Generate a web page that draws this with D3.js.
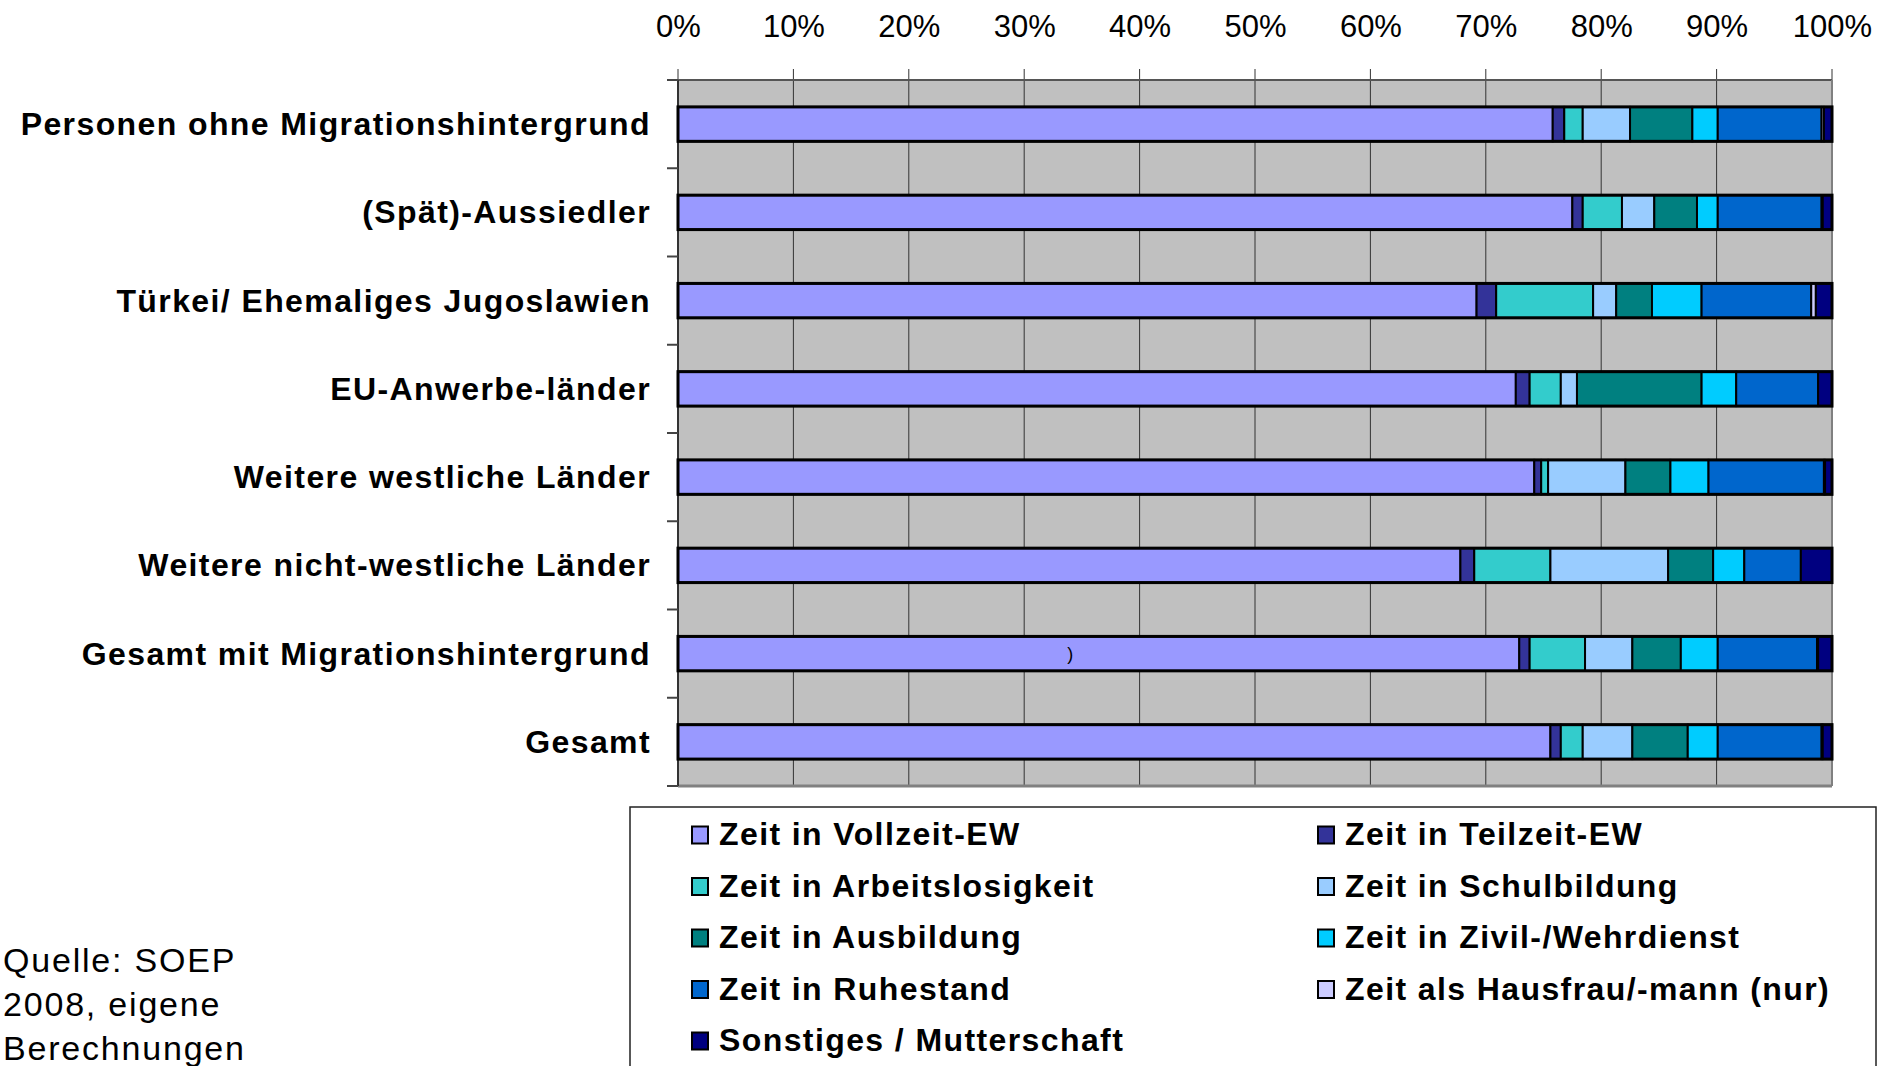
<!DOCTYPE html>
<html>
<head>
<meta charset="utf-8">
<script src="https://cdn.jsdelivr.net/npm/d3@7"></script>
<style>
  html, body { margin: 0; padding: 0; background: #fff; }
  svg { display: block; font-family: "Liberation Sans", Arial, sans-serif; }
</style>
</head>
<body>
<svg id="chart" width="1881" height="1066"></svg>
<script>
// ---- data ----
const categories = [
  "Personen ohne Migrationshintergrund",
  "(Spät)-Aussiedler",
  "Türkei/ Ehemaliges Jugoslawien",
  "EU-Anwerbe-länder",
  "Weitere westliche Länder",
  "Weitere nicht-westliche Länder",
  "Gesamt mit Migrationshintergrund",
  "Gesamt"
];
const seriesNames = [
  "Zeit in Vollzeit-EW",
  "Zeit in Teilzeit-EW",
  "Zeit in Arbeitslosigkeit",
  "Zeit in Schulbildung",
  "Zeit in Ausbildung",
  "Zeit in Zivil-/Wehrdienst",
  "Zeit in Ruhestand",
  "Zeit als Hausfrau/-mann (nur)",
  "Sonstiges / Mutterschaft"
];
const seriesColors = ["#9999FF", "#333399", "#33CCCC", "#99CCFF", "#008080", "#00CCFF", "#0066CC", "#CCCCFF", "#000080"];

const vollzeit      = [75.8, 77.5, 69.2, 72.6, 74.2, 67.8, 72.9, 75.6];
const teilzeit      = [1.0, 0.9, 1.7, 1.2, 0.6, 1.2, 0.9, 0.9];
const arbeitslos    = [1.6, 3.4, 8.4, 2.7, 0.6, 6.6, 4.8, 1.9];
const schulbildung  = [4.1, 2.8, 2.0, 1.4, 6.7, 10.2, 4.1, 4.3];
const ausbildung    = [5.4, 3.7, 3.1, 10.8, 3.9, 3.9, 4.2, 4.8];
const zivilWehr     = [2.2, 1.8, 4.3, 3.0, 3.3, 2.7, 3.2, 2.6];
const ruhestand     = [9.0, 9.0, 9.5, 7.1, 10.0, 4.9, 8.6, 9.0];
const hausfrau      = [0.2, 0.1, 0.4, 0.0, 0.1, 0.0, 0.1, 0.1];
const sonstiges     = [0.7, 0.8, 1.4, 1.2, 0.6, 2.7, 1.2, 0.8];

const tickValues = [0, 0.1, 0.2, 0.3, 0.4, 0.5, 0.6, 0.7, 0.8, 0.9, 1.0];
const sourceLines = ["Quelle: SOEP", "2008, eigene", "Berechnungen"];

const seriesValues = [vollzeit, teilzeit, arbeitslos, schulbildung, ausbildung, zivilWehr, ruhestand, hausfrau, sonstiges];

// table for stack
const table = categories.map((c, i) => {
  const row = { cat: c };
  seriesNames.forEach((s, j) => row[s] = seriesValues[j][i]);
  return row;
});

// ---- layout ----
const svg = d3.select("#chart");
const pLeft = 678, pRight = 1832, pTop = 80, pBottom = 786;

const x = d3.scaleLinear().domain([0, 1]).range([pLeft, pRight]);
const y = d3.scaleBand().domain(categories).range([pTop, pBottom]).paddingInner(0.61).paddingOuter(0.305);

// plot background
svg.append("rect").attr("x", pLeft).attr("y", pTop).attr("width", pRight - pLeft).attr("height", pBottom - pTop)
  .attr("fill", "#C0C0C0");

// vertical gridlines
svg.append("g").selectAll("line").data(tickValues).join("line")
  .attr("x1", d => x(d)).attr("x2", d => x(d))
  .attr("y1", pTop - 11).attr("y2", pBottom)
  .attr("stroke", "#333").attr("stroke-width", 1);

// border lines
svg.append("line").attr("x1", pLeft - 11).attr("x2", pRight).attr("y1", pTop).attr("y2", pTop)
  .attr("stroke", "#555").attr("stroke-width", 2);
svg.append("line").attr("x1", pRight).attr("x2", pRight).attr("y1", pTop).attr("y2", pBottom)
  .attr("stroke", "#808080").attr("stroke-width", 2);
svg.append("line").attr("x1", pLeft).attr("x2", pRight).attr("y1", pBottom).attr("y2", pBottom)
  .attr("stroke", "#808080").attr("stroke-width", 3);

// left axis line + ticks at band boundaries
const boundaries = d3.range(categories.length + 1).map(i => pTop + i * y.step());
svg.append("line").attr("x1", pLeft).attr("x2", pLeft).attr("y1", pTop).attr("y2", pBottom)
  .attr("stroke", "#333").attr("stroke-width", 2);
svg.append("g").selectAll("line").data(boundaries).join("line")
  .attr("x1", pLeft - 11).attr("x2", pLeft).attr("y1", d => d).attr("y2", d => d)
  .attr("stroke", "#444").attr("stroke-width", 2);

// top axis labels
const xAxis = d3.axisTop(x).tickValues(tickValues).tickFormat(d3.format(".0%")).tickSize(0).tickPadding(0);
const axG = svg.append("g").attr("transform", `translate(0, 37)`).call(xAxis);
axG.select(".domain").remove();
axG.selectAll("text").attr("font-size", 31).attr("font-family", '"Liberation Sans", Arial, sans-serif')
  .attr("fill", "#000").attr("dy", 0);

// stacked bars
const stack = d3.stack().keys(seriesNames).offset(d3.stackOffsetExpand);
const stacked = stack(table);

const barsG = svg.append("g");
stacked.forEach((layer, j) => {
  barsG.append("g").selectAll("rect").data(layer).join("rect")
    .attr("x", d => x(d[0]))
    .attr("y", d => y(d.data.cat))
    .attr("width", d => Math.max(0, x(d[1]) - x(d[0])))
    .attr("height", y.bandwidth())
    .attr("fill", seriesColors[j])
    .attr("stroke", "#000").attr("stroke-width", 2);
});
// outer bar outlines
barsG.append("g").selectAll("rect").data(categories).join("rect")
  .attr("x", x(0)).attr("y", d => y(d))
  .attr("width", x(1) - x(0)).attr("height", y.bandwidth())
  .attr("fill", "none").attr("stroke", "#000").attr("stroke-width", 3);

// category labels
svg.append("g").selectAll("text").data(categories).join("text")
  .attr("x", 651).attr("y", d => y(d) + y.bandwidth() / 2 + 11)
  .attr("text-anchor", "end").attr("font-size", 32).attr("font-weight", "bold")
  .attr("letter-spacing", "1.4px")
  .text(d => d);

// stray glyph in reference
svg.append("text").attr("x", x(0.34)).attr("y", y(categories[6]) + y.bandwidth() / 2 + 6)
  .attr("font-size", 18).attr("text-anchor", "middle").text(")");

// legend
svg.append("rect").attr("x", 630).attr("y", 807).attr("width", 1246).attr("height", 300)
  .attr("fill", "#fff").attr("stroke", "#222").attr("stroke-width", 1.5);
const legG = svg.append("g");
seriesNames.forEach((s, j) => {
  const col = j % 2, row = Math.floor(j / 2);
  const lx = col === 0 ? 692 : 1318;
  const cy = 835 + row * 51.5;
  legG.append("rect").attr("x", lx).attr("y", cy - 8.5).attr("width", 16).attr("height", 17)
    .attr("fill", seriesColors[j]).attr("stroke", "#000").attr("stroke-width", 2);
  legG.append("text").attr("x", lx + 27).attr("y", cy + 10)
    .attr("font-size", 32).attr("font-weight", "bold").attr("letter-spacing", "1.4px")
    .text(s);
});

// source
svg.append("g").selectAll("text").data(sourceLines).join("text")
  .attr("x", 3).attr("y", (d, i) => 972 + i * 44)
  .attr("font-size", 34).attr("letter-spacing", "1.8px")
  .text(d => d);
</script>
</body>
</html>
